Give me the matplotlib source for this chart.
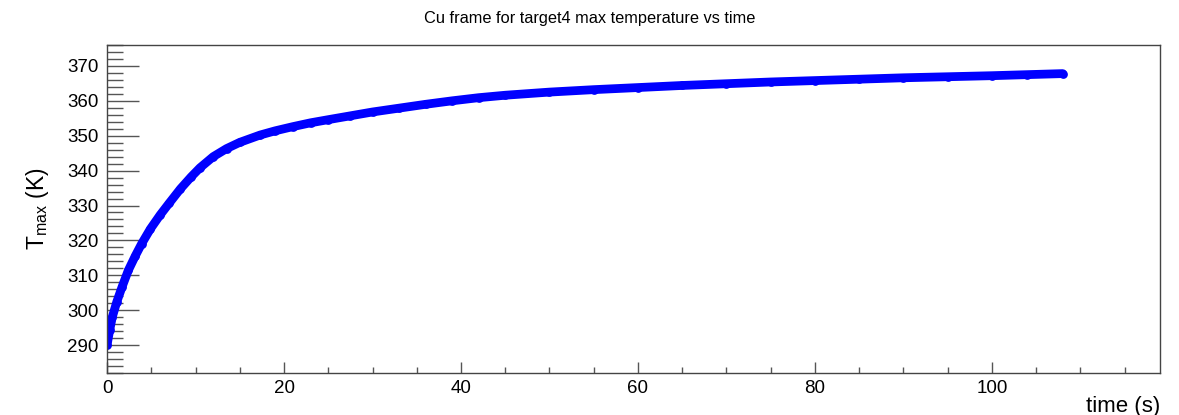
import matplotlib
matplotlib.use("Agg")
import matplotlib.pyplot as plt
from matplotlib.ticker import MultipleLocator

plt.rcParams["font.family"] = ["Liberation Sans", "DejaVu Sans"]
plt.rcParams["mathtext.fontset"] = "custom"
plt.rcParams["mathtext.rm"] = "Liberation Sans"

# values
time_s = [0.0, 0.3, 0.6, 1.1, 1.7, 2.4, 3.2, 3.9, 4.9, 6.0, 7.0, 8.3,
          9.5, 10.5, 12.0, 13.5, 15.0, 17.3, 19.0, 21.0, 23.0, 25.0,
          27.5, 30.0, 33.0, 36.0, 39.0, 42.0, 45.0, 50.0, 55.0, 60.0,
          65.0, 70.0, 75.0, 80.0, 85.0, 90.0, 95.0, 100.0, 104.0, 108.0]
t_max = [290.0, 294.3, 298.1, 302.4, 306.7, 311.4, 315.6, 319.0, 323.3,
         327.3, 330.6, 334.8, 338.2, 340.8, 344.0, 346.3, 348.1, 350.2,
         351.4, 352.6, 353.7, 354.6, 355.7, 356.8, 357.9, 359.0, 360.0,
         360.9, 361.6, 362.5, 363.2, 363.8, 364.4, 364.9, 365.4, 365.8,
         366.2, 366.6, 366.9, 367.2, 367.5, 367.8]

fig = plt.figure(figsize=(11.79, 4.15), dpi=100)
ax = fig.add_axes([0.0908, 0.1012, 0.8931, 0.7904])

ax.plot(time_s, t_max, color="#0000ff", linewidth=6.3, solid_capstyle="round",
        solid_joinstyle="round", marker="o", markersize=6.3, markeredgewidth=0)

ax.set_xlim(0, 119)
ax.set_ylim(282, 376)
ax.xaxis.set_major_locator(MultipleLocator(20))
ax.xaxis.set_minor_locator(MultipleLocator(5))
ax.yaxis.set_major_locator(MultipleLocator(10))
ax.yaxis.set_minor_locator(MultipleLocator(2))

tick_col = "#555555"
ax.tick_params(axis="x", which="major", direction="in", length=8, width=1,
               color=tick_col, labelsize=13.5, pad=5)
ax.tick_params(axis="x", which="minor", direction="in", length=4, width=1,
               color=tick_col)
ax.tick_params(axis="y", which="major", direction="in", length=23, width=1,
               color=tick_col, labelsize=13.5, pad=6)
ax.tick_params(axis="y", which="minor", direction="in", length=11.5, width=1,
               color=tick_col)
for sp in ax.spines.values():
    sp.set_color("#444444")
    sp.set_linewidth(1)

fig.text(0.5, 1 - 18 / 415, "Cu frame for target4 max temperature vs time",
         fontsize=11.8, ha="center", va="center")
ax.set_ylabel(r"T$_{\mathrm{max}}$ (K)", fontsize=16.5, labelpad=12)
ax.set_xlabel("time (s)", fontsize=16, ha="right", x=1.0, labelpad=-1)

fig.savefig("out.png", dpi=100)
